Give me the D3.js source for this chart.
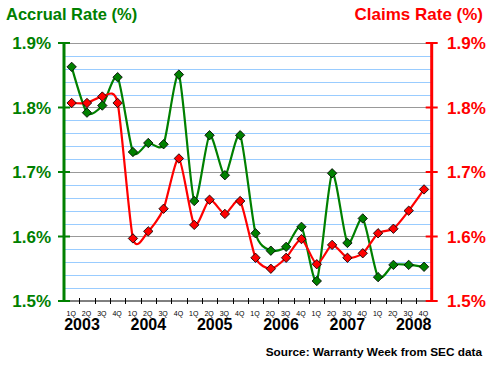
<!DOCTYPE html>
<html><head><meta charset="utf-8">
<script src="https://cdn.jsdelivr.net/npm/d3@7"></script>
<style>html,body{margin:0;padding:0;background:#fff;}svg{display:block;font-family:Arial,"Liberation Sans",sans-serif;}</style>
</head><body>
<script>
const quarterLabels = ["1Q","2Q","3Q","4Q","1Q","2Q","3Q","4Q","1Q","2Q","3Q","4Q","1Q","2Q","3Q","4Q","1Q","2Q","3Q","4Q","1Q","2Q","3Q","4Q"];
const yearLabels = ["2003","2004","2005","2006","2007","2008"];
const accrualRate = [1.863,1.792,1.803,1.847,1.731,1.745,1.743,1.851,1.655,1.757,1.695,1.757,1.605,1.578,1.584,1.615,1.531,1.698,1.590,1.628,1.537,1.556,1.556,1.553];
const claimsRate  = [1.807,1.807,1.817,1.807,1.597,1.608,1.643,1.721,1.618,1.657,1.635,1.655,1.567,1.550,1.567,1.596,1.557,1.587,1.567,1.574,1.605,1.612,1.640,1.673];
const yTicks = [1.5,1.6,1.7,1.8,1.9];
const yMinor = [1.52,1.54,1.56,1.58,1.62,1.64,1.66,1.68,1.72,1.74,1.76,1.78,1.82,1.84,1.86,1.88];

const W = 500, H = 365;
const x0 = 64, x1 = 431.7, yTop = 43, yBot = 301;
const GREEN = "#008000", RED = "#ff0000";

const svg = d3.select("body").append("svg").attr("width", W).attr("height", H);

const idx = quarterLabels.map((d,i)=>i);
const x = d3.scaleBand().domain(idx).range([x0, x1]).padding(0);
const y = d3.scaleLinear().domain([1.5,1.9]).range([yBot, yTop]);
const yR = d3.scaleLinear().domain([1.5,1.9]).range([yBot, yTop]);
const xYear = d3.scalePoint().domain(yearLabels).range([x0+18, x1-18]);

// minor gridlines
svg.append("g").selectAll("line").data(yMinor).join("line")
  .attr("x1", x0).attr("x2", x1).attr("y1", d=>Math.round(y(d))+0.5).attr("y2", d=>Math.round(y(d))+0.5)
  .attr("stroke", "#99ccff").attr("stroke-width", 1);
// major gridlines
svg.append("g").selectAll("line").data(yTicks.filter(d=>d>1.5)).join("line")
  .attr("x1", x0).attr("x2", x1).attr("y1", d=>Math.round(y(d))+0.5).attr("y2", d=>Math.round(y(d))+0.5)
  .attr("stroke", "#999999").attr("stroke-width", 1);

// bottom axis
const gx = svg.append("g").attr("transform", `translate(0,${yBot})`);
gx.append("line").attr("x1", x0).attr("x2", x1).attr("stroke", "#000");
const bounds = d3.range(0, idx.length+1).map(i => x0 + i*x.bandwidth());
gx.selectAll("line.t").data(bounds.slice(1, -1)).join("line").attr("class","t")
  .attr("x1", d=>Math.round(d)+0.5).attr("x2", d=>Math.round(d)+0.5).attr("y1", -3).attr("y2", 3).attr("stroke", "#000");
gx.selectAll("text.q").data(idx).join("text").attr("class","q")
  .attr("x", d=>x(d)+x.bandwidth()/2 - 0.5).attr("y", 15).attr("text-anchor","middle")
  .attr("font-size", 7).attr("fill", "#000").text(d=>quarterLabels[d]);
gx.selectAll("text.y").data(yearLabels).join("text").attr("class","y")
  .attr("x", d=>xYear(d)).attr("y", 28.5).attr("text-anchor","middle")
  .attr("font-size", 16).attr("font-weight","bold").attr("fill","#000").text(d=>d);

// left axis
const gl = svg.append("g");
gl.append("line").attr("x1", x0).attr("x2", x0).attr("y1", yTop).attr("y2", yBot).attr("stroke", GREEN).attr("stroke-width", 3);
gl.selectAll("line.t").data(yTicks).join("line").attr("class","t")
  .attr("x1", x0-6).attr("x2", x0+6).attr("y1", d=>y(d)).attr("y2", d=>y(d)).attr("stroke", GREEN).attr("stroke-width", 2);
gl.selectAll("text").data(yTicks).join("text")
  .attr("x", 51).attr("y", d=>y(d)+6).attr("text-anchor","end")
  .attr("font-size", 17).attr("font-weight","bold").attr("fill", GREEN).text(d=>d.toFixed(1)+"%");

// right axis
const gr = svg.append("g");
gr.append("line").attr("x1", x1).attr("x2", x1).attr("y1", yTop).attr("y2", yBot).attr("stroke", RED).attr("stroke-width", 3);
gr.selectAll("line.t").data(yTicks).join("line").attr("class","t")
  .attr("x1", x1-6).attr("x2", x1+6).attr("y1", d=>yR(d)).attr("y2", d=>yR(d)).attr("stroke", RED).attr("stroke-width", 2);
gr.selectAll("text").data(yTicks).join("text")
  .attr("x", 447).attr("y", d=>yR(d)+6).attr("text-anchor","start")
  .attr("font-size", 17).attr("font-weight","bold").attr("fill", RED).text(d=>d.toFixed(1)+"%");

// titles
svg.append("text").attr("x", 6).attr("y", 20).attr("font-size", 16.5).attr("font-weight","bold").attr("fill", GREEN).text("Accrual Rate (%)");
svg.append("text").attr("x", 483).attr("y", 20).attr("text-anchor","end").attr("font-size", 17).attr("font-weight","bold").attr("fill", RED).text("Claims Rate (%)");
svg.append("text").attr("x", 482).attr("y", 356).attr("text-anchor","end").attr("font-size", 11.8).attr("font-weight","bold").attr("fill", "#000").text("Source: Warranty Week from SEC data");

const cx = i => x(i) + x.bandwidth()/2;
function series(vals, scale, color) {
  const line = d3.line().x((d,i)=>cx(i)).y(d=>scale(d)).curve(d3.curveCardinal.tension(0.3));
  svg.append("path").datum(vals).attr("d", line).attr("fill","none").attr("stroke", color).attr("stroke-width", 2.2);
  svg.append("g").selectAll("path").data(vals).join("path")
    .attr("transform", (d,i)=>`translate(${cx(i)},${scale(d)}) rotate(45)`)
    .attr("d", d3.symbol().type(d3.symbolSquare).size(44))
    .attr("fill", color).attr("stroke", "#000").attr("stroke-width", 0.8);
}
series(accrualRate, y, GREEN);
series(claimsRate, yR, RED);
</script>
</body></html>
